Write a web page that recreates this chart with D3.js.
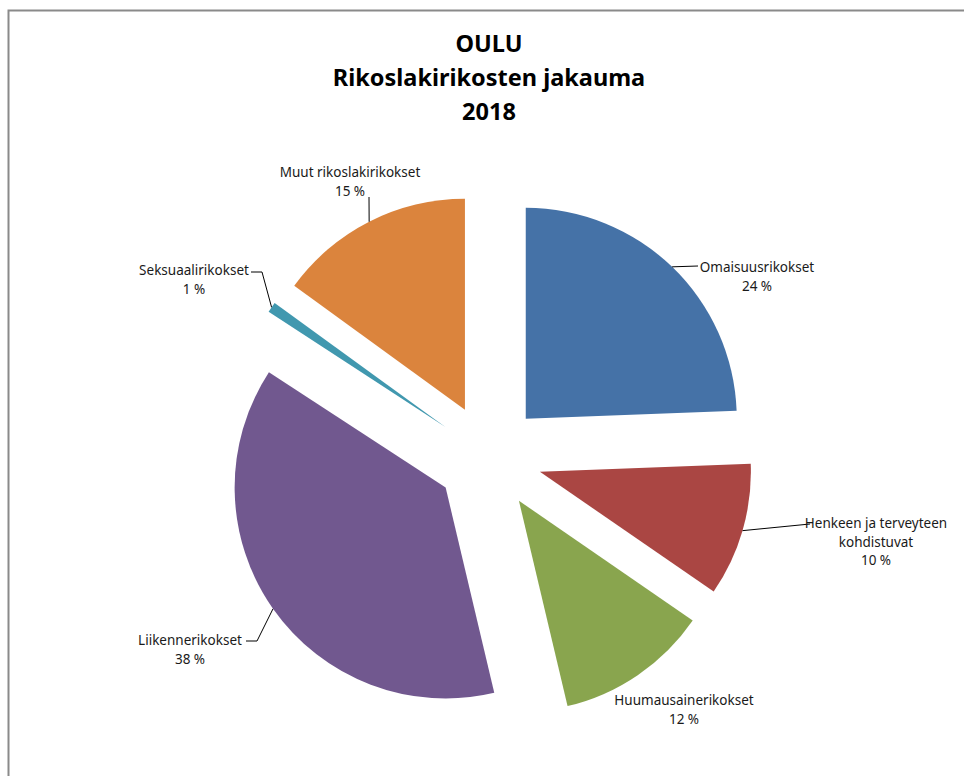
<!DOCTYPE html>
<html>
<head>
<meta charset="utf-8">
<script src="https://cdn.jsdelivr.net/npm/d3@7"></script>
<style>
  body { margin: 0; background: #fff; }
  text { font-family: "Noto Sans", "Open Sans", sans-serif; }
</style>
</head>
<body>
<div id="chart"></div>
<script>
// data
const titleLines = ["OULU", "Rikoslakirikosten jakauma", "2018"];
const categories = [
  "Omaisuusrikokset",
  "Henkeen ja terveyteen kohdistuvat",
  "Huumausainerikokset",
  "Liikennerikokset",
  "Seksuaalirikokset",
  "Muut rikoslakirikokset"
];
const labelLines = [
  ["Omaisuusrikokset"],
  ["Henkeen ja terveyteen", "kohdistuvat"],
  ["Huumausainerikokset"],
  ["Liikennerikokset"],
  ["Seksuaalirikokset"],
  ["Muut rikoslakirikokset"]
];
// shares in percent (labels show them rounded)
const values = [24.4, 10.2, 11.7, 37.9, 0.8, 15.0];
const colors = ["#4572A7", "#AA4643", "#89A54E", "#71588F", "#4198AF", "#DB843D"];

// layout
const width = 964;
const height = 776;
const cx = 489, cy = 457;
const radius = 211;
const explode = 53;

// label placement: centre x, first baseline y, leader elbow points (label side)
const labelLayout = [
  { x: 757, y: 272, leader: [[698, 266]] },
  { x: 876, y: 528, leader: [[810, 524]] },
  { x: 684, y: 705, leader: null },
  { x: 190, y: 645, leader: [[246, 641], [257, 641]] },
  { x: 194, y: 275, leader: [[251, 272], [262, 272]] },
  { x: 350, y: 177, leader: [[369, 197]] }
];

const svg = d3.select("#chart")
  .append("svg")
  .attr("width", width)
  .attr("height", height);

// frame
svg.append("path")
  .attr("d", `M8.5,${height} V10.5 H${width}`)
  .attr("fill", "none")
  .attr("stroke", "#8a8a8a")
  .attr("stroke-width", 2);

// title
svg.append("text")
  .attr("text-anchor", "middle")
  .attr("font-weight", "bold")
  .attr("font-size", 23.5)
  .attr("fill", "#000")
  .selectAll("tspan")
  .data(titleLines)
  .join("tspan")
  .attr("x", cx)
  .attr("y", (d, i) => 52 + i * 34)
  .text((d) => d);

const pie = d3.pie().sort(null).value((d) => d)(values);

const arc = d3.arc().innerRadius(0).outerRadius(radius);
const edgeArc = d3.arc().innerRadius(radius).outerRadius(radius);

// offset of each exploded slice
const shift = (d) => {
  const a = (d.startAngle + d.endAngle) / 2;
  return [explode * Math.sin(a), -explode * Math.cos(a)];
};

const g = svg.append("g").attr("transform", `translate(${cx},${cy})`);

g.selectAll("path.slice")
  .data(pie)
  .join("path")
  .attr("class", "slice")
  .attr("fill", (d, i) => colors[i])
  .attr("transform", (d) => `translate(${shift(d)})`)
  .attr("d", arc);

// leader lines from slice edge to label
pie.forEach((d, i) => {
  const lay = labelLayout[i];
  if (!lay.leader) return;
  const [sx, sy] = shift(d);
  const [ex, ey] = edgeArc.centroid(d);
  const pts = [[cx + sx + ex, cy + sy + ey]].concat(lay.leader.slice().reverse());
  svg.append("path")
    .attr("d", d3.line()(pts))
    .attr("fill", "none")
    .attr("stroke", "#000")
    .attr("stroke-width", 1);
});

// labels
const labels = svg.append("g")
  .attr("font-size", 13.5)
  .attr("fill", "#1a1a1a")
  .attr("text-anchor", "middle");

pie.forEach((d, i) => {
  const lay = labelLayout[i];
  const lines = labelLines[i].concat([Math.round(values[i]) + " %"]);
  labels.append("text")
    .selectAll("tspan")
    .data(lines)
    .join("tspan")
    .attr("x", lay.x)
    .attr("y", (t, j) => lay.y + j * 18.5)
    .text((t) => t);
});
</script>
</body>
</html>
